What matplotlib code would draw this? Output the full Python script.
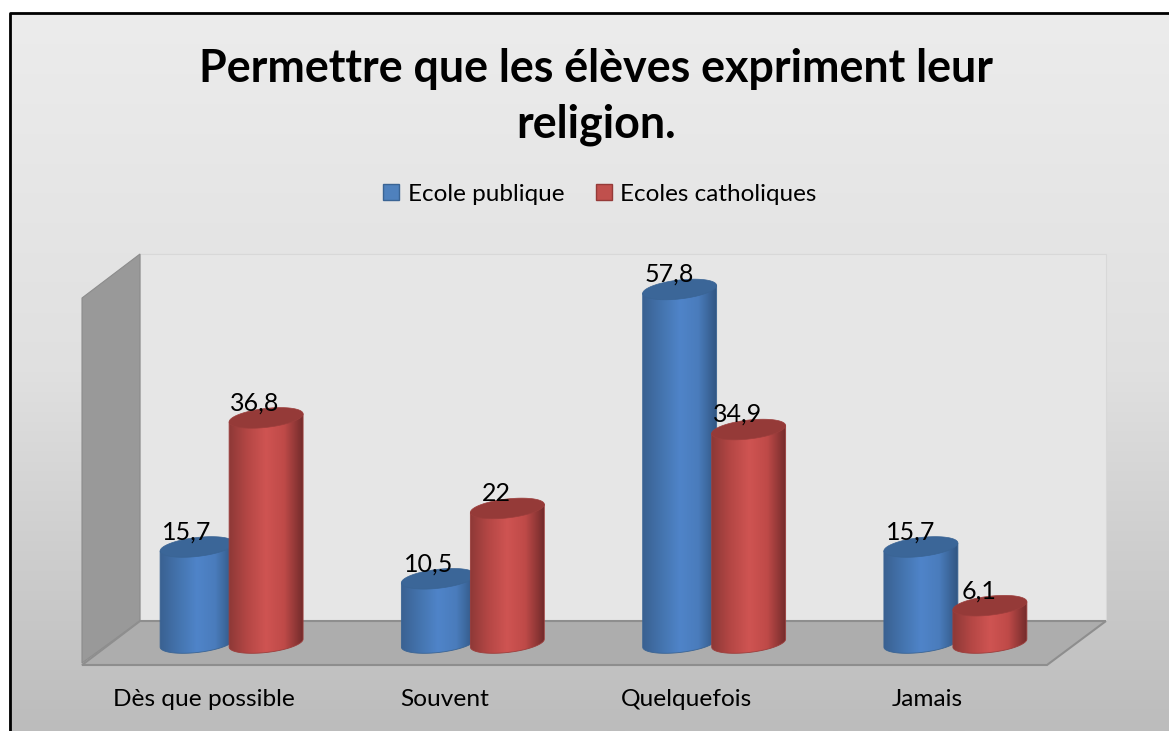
import matplotlib
matplotlib.use('Agg')
import matplotlib.pyplot as plt
from matplotlib.colors import LinearSegmentedColormap
from matplotlib.patches import Polygon, Patch
import numpy as np

categories = ['Dès que possible', 'Souvent', 'Quelquefois', 'Jamais']
ecole_publique = [15.7, 10.5, 57.8, 15.7]
ecoles_catholiques = [36.8, 22, 34.9, 6.1]
labels_publique = ['15,7', '10,5', '57,8', '15,7']
labels_catholiques = ['36,8', '22', '34,9', '6,1']
title = 'Permettre que les élèves expriment leur\nreligion.'

W, H = 1169, 731
plt.rcParams['font.family'] = ['Lato', 'DejaVu Sans']

fig = plt.figure(figsize=(W / 100, H / 100), dpi=100, facecolor='white')

# page background + frame, pixel coords
bg = fig.add_axes([0, 0, 1, 1])
bg.set_xlim(0, W)
bg.set_ylim(H, 0)
bg.axis('off')
grad = np.linspace(0, 1, 256).reshape(-1, 1)
bg_cmap = LinearSegmentedColormap.from_list('bg', ['#ececec', '#e0e0e0', '#bcbcbc'])
bg.imshow(grad, cmap=bg_cmap, extent=(9, W, H, 13), aspect='auto', zorder=0)
bg.plot([9.5, 9.5, W], [H, 13, 13], color='black', lw=2, zorder=5)
bg.set_xlim(0, W)
bg.set_ylim(H, 0)

# walls and floor
bg.add_patch(Polygon([[140, 254], [1106, 254], [1106, 621], [140, 621]], fc='#e6e6e6', ec='#d8d8d8', lw=0.8, zorder=1))
bg.add_patch(Polygon([[82, 298], [140, 254], [140, 621], [82, 663]], fc='#999999', ec='#8c8c8c', lw=0.8, zorder=1))
bg.add_patch(Polygon([[82, 665], [140, 621], [1106, 621], [1047, 665]], fc='#adadad', ec='#8e8e8e', lw=1.5, zorder=1))

# data axes sits on the mid depth plane of the box
left, right, top, bottom = 111, 1076, 276, 643
ax = fig.add_axes([left / W, 1 - bottom / H, (right - left) / W, (bottom - top) / H])
ax.set_xlim(-0.5, 3.5)
ax.set_ylim(0, 60)
ax.axis('off')
ax.patch.set_alpha(0)

px_x = 4 / (right - left)
px_y = 60 / (bottom - top)
half_w = 37 * px_x
ell_h = 9.5 * px_y
tilt = 4 * px_y
offset = 34.5 * px_x

blue_cmap = LinearSegmentedColormap.from_list('b', ['#3a6192', '#4474ae', '#4f84c9', '#4a7cbc', '#315682'])
red_cmap = LinearSegmentedColormap.from_list('r', ['#8e3937', '#b54745', '#cf5452', '#bf4a48', '#742c2c'])


def cylinder(cx, val, cmap, cap, edge, z):
    t = np.linspace(0, 2 * np.pi, 120)
    tb = np.linspace(np.pi, 2 * np.pi, 60)
    bx = cx + half_w * np.cos(tb)
    by = ell_h * np.sin(tb) + tilt * np.cos(tb)
    tx = cx + half_w * np.cos(tb[::-1])
    ty = val + tilt * np.cos(tb[::-1])
    body = Polygon(np.column_stack([np.r_[bx, tx], np.r_[by, ty]]), fc='none', ec=edge, lw=0.6, zorder=z + 0.2, clip_on=False)
    ax.add_patch(body)
    g = np.linspace(0, 1, 128).reshape(1, -1)
    im = ax.imshow(g, cmap=cmap, extent=(cx - half_w, cx + half_w, -3, val + 3), aspect='auto', zorder=z, interpolation='bilinear')
    im.set_clip_box(fig.bbox)
    im.set_clip_path(body)
    ax.add_patch(Polygon(np.column_stack([cx + half_w * np.cos(t), val + ell_h * np.sin(t) + tilt * np.cos(t)]),
                         fc=cap, ec=edge, lw=0.5, zorder=z + 0.4, clip_on=False))


for i in range(len(categories)):
    cylinder(i - offset, ecole_publique[i], blue_cmap, '#3b6698', '#3a6494', 3)
    cylinder(i + offset, ecoles_catholiques[i], red_cmap, '#953a38', '#9c3e3c', 4)
    ax.annotate(labels_publique[i], (i - offset, ecole_publique[i]), xytext=(-10, 15), textcoords='offset pixels',
                ha='center', va='center', fontsize=18, color='black', zorder=6)
    ax.annotate(labels_catholiques[i], (i + offset, ecoles_catholiques[i]), xytext=(-11, 15), textcoords='offset pixels',
                ha='center', va='center', fontsize=18, color='black', zorder=6)
    ax.annotate(categories[i], (i, 0), xytext=(-28, -57), textcoords='offset pixels',
                ha='center', va='center', fontsize=17.6, color='black', annotation_clip=False)
ax.set_xlim(-0.5, 3.5)
ax.set_ylim(0, 60)

fig.text(596 / W, 1 - 97 / H, title, ha='center', va='center', fontsize=32.3, fontweight='bold', color='black', linespacing=1.38)

handles = [Patch(fc='#4f81bd', ec='#3a6494', lw=1), Patch(fc='#c0504d', ec='#953a38', lw=1)]
fig.legend(handles, ['Ecole publique', 'Ecoles catholiques'], loc='center', bbox_to_anchor=(600 / W, 1 - 194 / H),
           ncol=2, frameon=False, fontsize=17.5, handlelength=0.65, handleheight=0.65, handletextpad=0.35, columnspacing=1.3)

fig.savefig('out.png', dpi=100)
